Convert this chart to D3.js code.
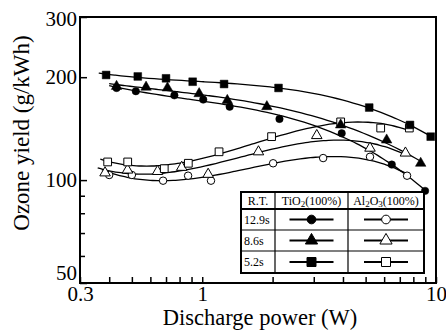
<!DOCTYPE html>
<html>
<head>
<meta charset="utf-8">
<script src="https://cdnjs.cloudflare.com/ajax/libs/d3/7.8.5/d3.min.js"></script>
<style>
body{margin:0;background:#fff}
svg{display:block;font-family:"Liberation Serif","Times New Roman",serif}
</style>
</head>
<body>
<svg id="canvas" width="446" height="330"></svg>
<script>
// discharge power (W) vs ozone yield (g/kWh)
let tio2Slow_x = [0.43, 0.52, 0.76, 1.01, 1.31, 2.14, 3.95, 6.47, 8.98]
let tio2Slow_y = [186, 182, 177, 172, 164, 151, 137, 111, 93]
let tio2Mid_x = [0.43, 0.575, 0.71, 0.97, 1.28, 1.89, 3.91, 6.15, 8.6]
let tio2Mid_y = [188, 187, 186, 179, 171, 164, 145, 131, 112]
let tio2Fast_x = [0.388, 0.53, 0.70, 0.91, 1.24, 2.12, 5.18, 7.74, 9.49]
let tio2Fast_y = [203, 201, 198.5, 194, 191, 186, 163, 145, 134]

let al2o3Slow_x = [0.40, 0.50, 0.68, 0.87, 1.09, 2.01, 3.29, 5.22, 7.52]
let al2o3Slow_y = [103.5, 103.5, 99.6, 103, 99.6, 112, 116, 117, 103]
let al2o3Mid_x = [0.384, 0.479, 0.644, 0.817, 1.06, 1.74, 3.09, 5.22, 7.4]
let al2o3Mid_y = [105, 107, 106, 109, 104, 121, 135, 124, 120]
let al2o3Fast_x = [0.394, 0.48, 0.688, 0.872, 1.18, 1.98, 3.91, 5.80, 7.69]
let al2o3Fast_y = [113, 113, 108, 112, 121, 134, 148, 142, 142]

let residenceTimes = ["12.9s", "8.6s", "5.2s"]
let xTickLabels = [0.3, 1, 10]
let xMinorTicks = [0.4, 0.5, 0.6, 0.7, 0.8, 0.9, 2, 3, 4, 5, 6, 7, 8, 9]
let yTickLabels = [50, 100, 200, 300]
let yMinorTicks = [60, 70, 80, 90]

let series = [
    {rt: "12.9s", xs: tio2Slow_x, ys: tio2Slow_y, shape: d3.symbolCircle, filled: true},
    {rt: "8.6s", xs: tio2Mid_x, ys: tio2Mid_y, shape: d3.symbolTriangle, filled: true},
    {rt: "5.2s", xs: tio2Fast_x, ys: tio2Fast_y, shape: d3.symbolSquare, filled: true},
    {rt: "12.9s", xs: al2o3Slow_x, ys: al2o3Slow_y, shape: d3.symbolCircle, filled: false},
    {rt: "8.6s", xs: al2o3Mid_x, ys: al2o3Mid_y, shape: d3.symbolTriangle, filled: false},
    {rt: "5.2s", xs: al2o3Fast_x, ys: al2o3Fast_y, shape: d3.symbolSquare, filled: false}
]

let markerSize = (shape, big) => {
    let s = shape === d3.symbolSquare ? 60 : shape === d3.symbolTriangle ? 48 : 44
    return big ? s * 1.35 : s
}

let svg = d3.select('#canvas')
let mLeft = 80, mTop = 17, mRight = 436, mBottom = 283

let x = d3.scaleLog().domain([0.3, 10]).range([mLeft, mRight])
let y = d3.scaleLog().domain([50, 300]).range([mBottom, mTop])

// cubic least squares in log-log space, used for the smooth trend lines
let fitCurve = (xs, ys, degree) => {
    let u = xs.map(Math.log)
    let v = ys.map(Math.log)
    let n = degree + 1
    let A = d3.range(n).map(() => d3.range(n + 1).map(() => 0))
    u.forEach((ui, k) => {
        for (let i = 0; i < n; i++) {
            for (let j = 0; j < n; j++) A[i][j] += Math.pow(ui, i + j)
            A[i][n] += Math.pow(ui, i) * v[k]
        }
    })
    for (let i = 0; i < n; i++) {
        let p = i
        for (let r = i + 1; r < n; r++) {
            if (Math.abs(A[r][i]) > Math.abs(A[p][i])) p = r
        }
        let tmp = A[i]
        A[i] = A[p]
        A[p] = tmp
        for (let r = 0; r < n; r++) {
            if (r === i) continue
            let f = A[r][i] / A[i][i]
            for (let c = i; c <= n; c++) A[r][c] -= f * A[i][c]
        }
    }
    let coef = A.map((row, i) => row[n] / row[i])
    return (xv) => {
        let t = Math.log(xv)
        return Math.exp(coef.reduce((s, c, i) => s + c * Math.pow(t, i), 0))
    }
}

svg.append('clipPath').attr('id', 'plotClip')
    .append('rect')
    .attr('x', mLeft).attr('y', mTop)
    .attr('width', mRight - mLeft).attr('height', mBottom - mTop)

let line = d3.line()
    .x(d => x(d[0]))
    .y(d => y(d[1]))
    .curve(d3.curveMonotoneX)

let curves = svg.append('g').attr('clip-path', 'url(#plotClip)')

series.forEach(s => {
    let f = fitCurve(s.xs, s.ys, 3)
    let x0 = d3.min(s.xs) * 0.93
    let x1 = d3.max(s.xs)
    let pts = d3.range(61).map(i => {
        let xv = Math.exp(Math.log(x0) + (Math.log(x1) - Math.log(x0)) * i / 60)
        return [xv, f(xv)]
    })
    curves.append('path')
        .attr('d', line(pts))
        .attr('fill', 'none')
        .attr('stroke', '#000')
        .attr('stroke-width', 1.3)
})

// markers: open ones first so filled ones sit on top
let order = series.slice(3).concat(series.slice(0, 3))
order.forEach(s => {
    svg.append('g')
        .selectAll('path')
        .data(s.xs.map((xv, i) => [xv, s.ys[i]]))
        .enter()
        .append('path')
        .attr('d', d3.symbol().type(s.shape).size(markerSize(s.shape, false)))
        .attr('transform', d => 'translate(' + x(d[0]) + ',' + y(d[1]) + ')')
        .attr('fill', s.filled ? '#000' : '#fff')
        .attr('stroke', '#000')
        .attr('stroke-width', s.filled ? 0.5 : 1)
})

// axes with inward ticks
let xAxis = d3.axisBottom(x)
    .tickValues(xTickLabels.concat(xMinorTicks))
    .tickSize(-6)
    .tickPadding(3)
    .tickFormat(d => xTickLabels.includes(d) ? d : '')

let gx = svg.append('g')
    .attr('transform', 'translate(0,' + mBottom + ')')
    .call(xAxis)
gx.select('.domain').remove()
gx.selectAll('line').attr('stroke', '#000').attr('stroke-width', 1.5)
gx.selectAll('text').attr('fill', '#000').style('font-size', '21px')
    .style('font-family', '"Liberation Serif", serif')

let yAxis = d3.axisLeft(y)
    .tickValues(yTickLabels.concat(yMinorTicks))
    .tickSize(-5)
    .tickPadding(3)
    .tickFormat(d => yTickLabels.includes(d) ? d : '')

let gy = svg.append('g')
    .attr('transform', 'translate(' + mLeft + ',0)')
    .call(yAxis)
gy.select('.domain').remove()
gy.selectAll('line').attr('stroke', '#000').attr('stroke-width', 1.5)
    .attr('x2', d => yTickLabels.includes(d) ? 7 : 5)
gy.selectAll('text').attr('fill', '#000').style('font-size', '21px')
    .style('font-family', '"Liberation Serif", serif')
    .attr('dy', d => d === 50 ? '-0.15em' : d === 300 ? '0.42em' : '0.3em')

svg.append('rect')
    .attr('x', mLeft).attr('y', mTop)
    .attr('width', mRight - mLeft).attr('height', mBottom - mTop)
    .attr('fill', 'none')
    .attr('stroke', '#000')
    .attr('stroke-width', 2)

svg.append('text')
    .attr('x', 260).attr('y', 325)
    .attr('text-anchor', 'middle')
    .style('font-size', '22.5px')
    .text('Discharge power (W)')

svg.append('text')
    .attr('transform', 'translate(29,133) rotate(-90)')
    .attr('text-anchor', 'middle')
    .style('font-size', '23px')
    .text('Ozone yield (g/kWh)')

// legend table
let tab = {x0: 241, x1: 424, y0: 192, y1: 273}
let colEdges = [241, 275, 348, 424]
let rowEdges = [192, 209, 230, 251, 273]
let legend = svg.append('g')

legend.append('rect')
    .attr('x', tab.x0).attr('y', tab.y0)
    .attr('width', tab.x1 - tab.x0).attr('height', tab.y1 - tab.y0)
    .attr('fill', '#fff')
    .attr('stroke', '#000')
    .attr('stroke-width', 2)

colEdges.slice(1, 3).forEach(cx => {
    legend.append('line')
        .attr('x1', cx).attr('x2', cx)
        .attr('y1', tab.y0).attr('y2', tab.y1)
        .attr('stroke', '#000').attr('stroke-width', 1.2)
})
rowEdges.slice(1, 4).forEach((ry, i) => {
    legend.append('line')
        .attr('x1', tab.x0).attr('x2', tab.x1)
        .attr('y1', ry).attr('y2', ry)
        .attr('stroke', '#000').attr('stroke-width', i === 0 ? 2 : 1.2)
})

legend.append('text')
    .attr('x', (colEdges[0] + colEdges[1]) / 2).attr('y', 204.5)
    .attr('text-anchor', 'middle')
    .style('font-size', '12px')
    .text('R.T.')

let tiHead = legend.append('text')
    .attr('x', (colEdges[1] + colEdges[2]) / 2).attr('y', 204.5)
    .attr('text-anchor', 'middle')
    .style('font-size', '12px')
tiHead.append('tspan').text('TiO')
tiHead.append('tspan').text('2').style('font-size', '9px').attr('dy', 2)
tiHead.append('tspan').text('(100%)').attr('dy', -2)

let alHead = legend.append('text')
    .attr('x', (colEdges[2] + colEdges[3]) / 2).attr('y', 204.5)
    .attr('text-anchor', 'middle')
    .style('font-size', '12px')
alHead.append('tspan').text('Al')
alHead.append('tspan').text('2').style('font-size', '9px').attr('dy', 2)
alHead.append('tspan').text('O').attr('dy', -2)
alHead.append('tspan').text('3').style('font-size', '9px').attr('dy', 2)
alHead.append('tspan').text('(100%)').attr('dy', -2)

residenceTimes.forEach((rt, r) => {
    let cy = (rowEdges[r + 1] + rowEdges[r + 2]) / 2
    legend.append('text')
        .attr('x', 244).attr('y', cy + 4)
        .style('font-size', '12px')
        .text(rt)
    series.filter(s => s.rt === rt).forEach(s => {
        let c0 = s.filled ? colEdges[1] : colEdges[2]
        let c1 = s.filled ? colEdges[2] : colEdges[3]
        let cx = (c0 + c1) / 2
        legend.append('line')
            .attr('x1', cx - 22).attr('x2', cx + 22)
            .attr('y1', cy).attr('y2', cy)
            .attr('stroke', '#000').attr('stroke-width', 1.8)
        legend.append('path')
            .attr('d', d3.symbol().type(s.shape).size(markerSize(s.shape, true)))
            .attr('transform', 'translate(' + cx + ',' + cy + ')')
            .attr('fill', s.filled ? '#000' : '#fff')
            .attr('stroke', '#000')
            .attr('stroke-width', 1)
    })
})
</script>
</body>
</html>
